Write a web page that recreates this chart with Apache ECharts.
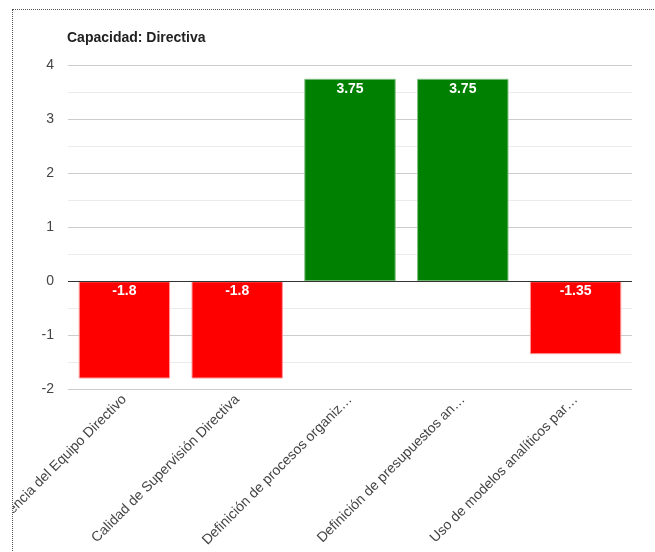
<!DOCTYPE html>
<html>
<head>
<meta charset="utf-8">
<style>
  html, body { margin: 0; padding: 0; background: #fff; }
  #frame {
    position: absolute; left: 12px; top: 9px; width: 643px; height: 543px;
    border-top: 1px dotted #555; border-left: 1px dotted #555; overflow: hidden;
  }
  #chart { width: 642px; height: 542px; }
</style>
<script src="https://cdn.jsdelivr.net/npm/echarts@6/dist/echarts.min.js"></script>
</head>
<body>
<div id="frame"><div id="chart"></div></div>
<script>
// Indicators of the "Directiva" capacity and their scores
const categories = [
  'Competencia del Equipo Directivo',
  'Calidad de Supervisión Directiva',
  'Definición de procesos organiz…',
  'Definición de presupuestos an…',
  'Uso de modelos analíticos par…'
];
const values = [-1.8, -1.8, 3.75, 3.75, -1.35];
const yTicks = [-2, -1, 0, 1, 2, 3, 4];

const FONT = 'Liberation Sans, Arial, sans-serif';
const POS = '#008000', NEG = '#ff0000';

const chart = echarts.init(document.getElementById('chart'), null, { renderer: 'canvas' });
chart.setOption({
  animation: false,
  title: {
    text: 'Capacidad: Directiva',
    left: 54, top: 21, padding: 0,
    textStyle: { fontFamily: FONT, fontSize: 14, fontWeight: 'bold', color: '#222' }
  },
  grid: {
    left: 55, right: 23, top: 55.3, bottom: 162.7,
    containLabel: false, outerBoundsMode: 'none'
  },
  xAxis: {
    type: 'category',
    data: categories,
    axisLine: { show: false },
    axisTick: { show: false },
    axisLabel: {
      interval: 0, rotate: 45, margin: 8,
      fontFamily: FONT, fontSize: 14, color: '#444'
    }
  },
  yAxis: {
    type: 'value',
    min: yTicks[0], max: yTicks[yTicks.length - 1], interval: 1,
    axisLine: { show: false },
    axisTick: { show: false },
    axisLabel: { margin: 14, fontFamily: FONT, fontSize: 14, color: '#444' },
    splitLine: { lineStyle: { color: '#ccc', width: 1 } },
    minorTick: { show: false, splitNumber: 2 },
    minorSplitLine: { show: true, lineStyle: { color: '#ebebeb', width: 1 } }
  },
  series: [{
    type: 'bar',
    barWidth: '81%',
    data: values.map(v => ({
      value: v,
      itemStyle: {
        color: v >= 0 ? POS : NEG,
        borderColor: v >= 0 ? '#7fbf7f' : '#ff9999',
        borderWidth: 1
      }
    })),
    label: {
      show: true,
      position: 'insideTop',
      distance: 3,
      fontFamily: FONT, fontSize: 14, fontWeight: 'bold', color: '#fff'
    },
    markLine: {
      silent: true, symbol: 'none', label: { show: false },
      lineStyle: { color: '#333', width: 1, type: 'solid' },
      data: [{ yAxis: 0 }]
    }
  }]
});
</script>
</body>
</html>
